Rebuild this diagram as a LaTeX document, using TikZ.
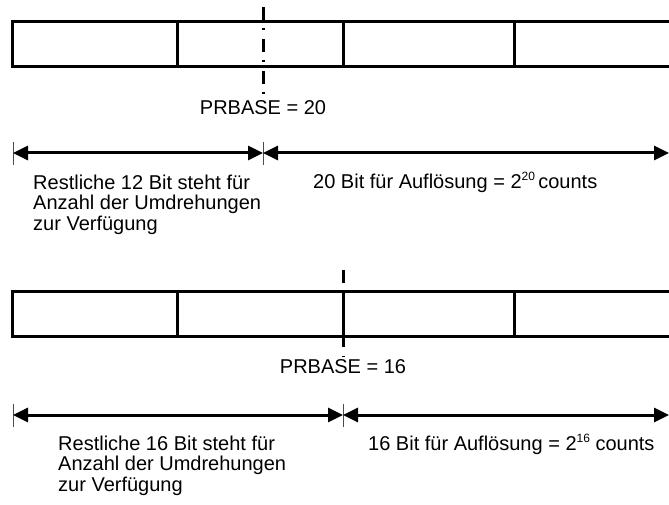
\documentclass[tikz,border=0pt]{standalone}
\usepackage{fontspec}
\setmainfont{Liberation Sans}
\usepackage{tikz}
\usetikzlibrary{arrows.meta}

\newcommand{\hoch}[1]{\raisebox{8pt}{\fontsize{12}{12}\selectfont #1}}

\tikzset{
  wall/.style={line width=3pt},
  span/.style={line width=3pt,{Triangle[length=15pt,width=14pt]}-{Triangle[length=15pt,width=14pt]}},
  tick/.style={line width=1pt,black!70},
  cut/.style={line width=3pt,dash pattern=on 13pt off 8.5pt on 2pt off 8.5pt},
  txt/.style={font=\fontsize{20}{20.5}\selectfont,inner sep=0pt,align=left}
}

\begin{document}
\begin{tikzpicture}[x=1pt,y=-1pt]
    \useasboundingbox (0,0) rectangle (669,505);
    % the two 32 bit words
    \foreach \t/\b in {22/67,291/336} {
      \draw[wall] (669,\t) -- (12,\t) -- (12,\b) -- (669,\b);
      \foreach \x in {177,343,514}
        \draw[wall] (\x,\t) -- (\x,\b);
    }
    \draw[cut] (263,7) -- (263,94);
    \draw[cut] (343,270) -- (343,357);
    \node[txt,anchor=base] (base1) at (263,115) {PRBASE = 20};
    \node[txt,anchor=base] (base2) at (343,373) {PRBASE = 16};

    % ranges below each word
    \coordinate (l1) at (13,153);
    \coordinate (m1) at (263,153);
    \coordinate (r1) at (669,153);
    \coordinate (l2) at (13,415);
    \coordinate (m2) at (343,415);
    \coordinate (r2) at (669,415);
    \foreach \c in {l1,m1,l2,m2}
      \draw[tick] (\c) ++(0,-11) -- ++(0,23);
    \draw[span] (l1) -- (m1);
    \draw[span] (m1) -- (r1);
    \draw[span] (l2) -- (m2);
    \draw[span] (m2) -- (r2);

    % base sits on the last line of a multi-line node
    \node[txt,anchor=base west] (rest1) at (33,230) {Restliche 12 Bit steht für\\Anzahl der Umdrehungen\\zur Verfügung};
    \node[txt,anchor=base west] (aufl1) at (313,189) {20 Bit für Auflösung = 2\hoch{20}\,counts};
    \node[txt,anchor=base west] (rest2) at (58,491) {Restliche 16 Bit steht für\\Anzahl der Umdrehungen\\zur Verfügung};
    \node[txt,anchor=base west] (aufl2) at (368,450) {16 Bit für Auflösung = 2\hoch{16} counts};
\end{tikzpicture}
\end{document}
